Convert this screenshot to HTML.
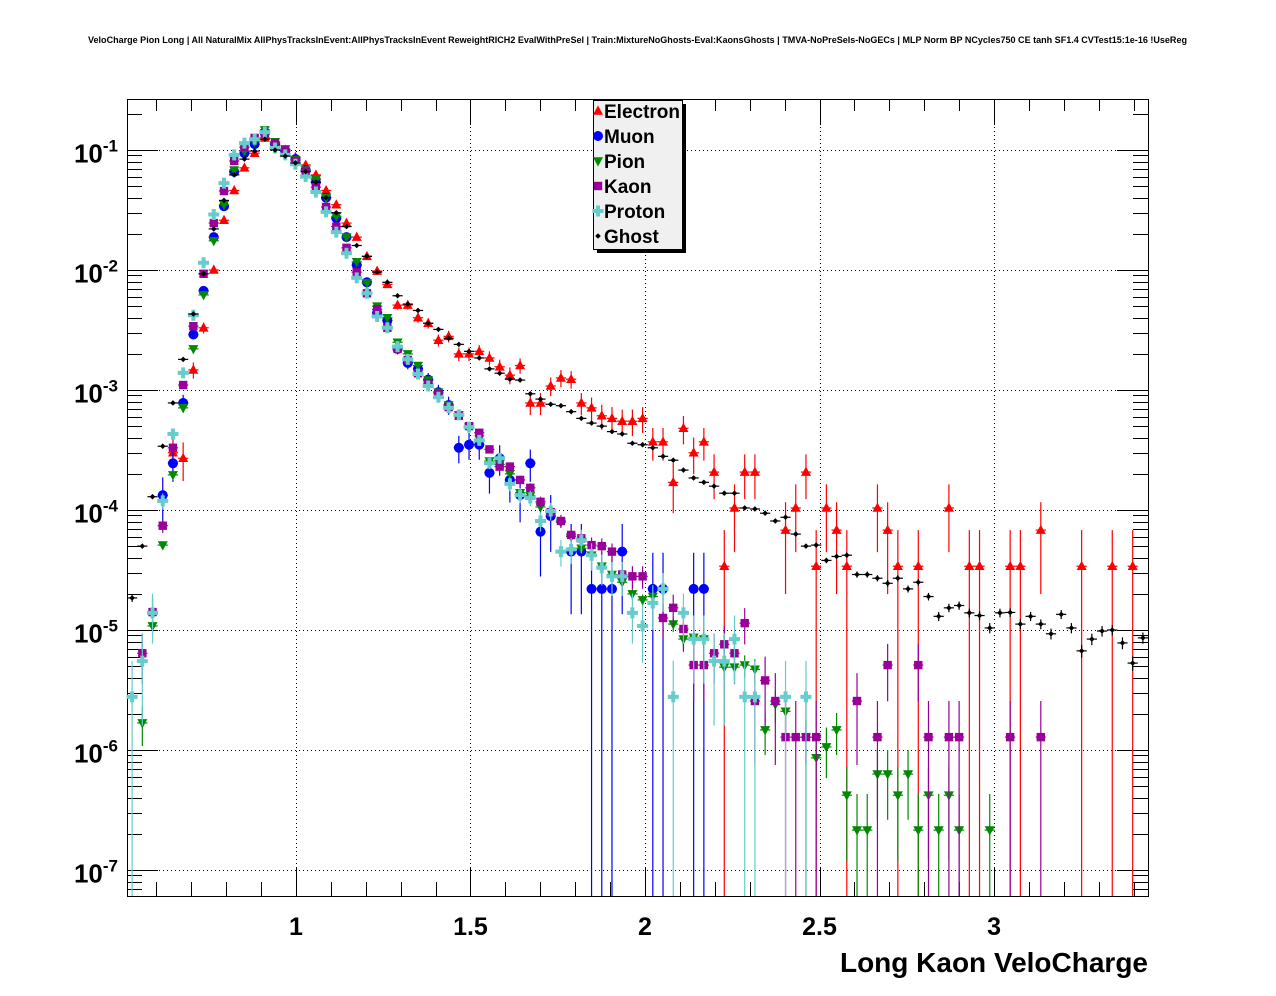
<!DOCTYPE html>
<html><head><meta charset="utf-8"><style>
html,body{margin:0;padding:0;background:#fff;}
svg{display:block;font-family:"Liberation Sans",Arial,sans-serif;}
</style></head><body>
<svg id="chart" width="1276" height="996" viewBox="0 0 1276 996" xmlns="http://www.w3.org/2000/svg">
<rect x="0" y="0" width="1276" height="996" fill="#fff"/>
<text x="88" y="43" font-size="9" font-weight="bold" textLength="1099" lengthAdjust="spacingAndGlyphs">VeloCharge Pion Long | All NaturalMix AllPhysTracksInEvent:AllPhysTracksInEvent ReweightRICH2 EvalWithPreSel | Train:MixtureNoGhosts-Eval:KaonsGhosts | TMVA-NoPreSels-NoGECs | MLP Norm BP NCycles750 CE tanh SF1.4 CVTest15:1e-16 !UseReg</text>
<rect x="127.5" y="99.5" width="1021" height="797" fill="#fff" stroke="#000" stroke-width="1"/>
<g id="grid"></g><g id="ticks"></g><g id="series"></g>
<text x="1148" y="972" text-anchor="end" font-size="28" font-weight="bold">Long Kaon VeloCharge</text>
<g id="legend">
<rect x="597" y="104" width="89" height="149" fill="#000"/>
<rect x="593.5" y="100.5" width="89" height="149" fill="#f0f0f0" stroke="#000"/>
</g>
</svg>
<script>
const nBins = 100;
const xMin = 0.516, xMax = 3.441;
const xTicks = [1, 1.5, 2, 2.5, 3];
const xTickLabels = ["1", "1.5", "2", "2.5", "3"];
const yDecades = [-1, -2, -3, -4, -5, -6, -7];
const yTickLabels = ["-1", "-2", "-3", "-4", "-5", "-6", "-7"];
const seriesNames = ["Electron", "Muon", "Pion", "Kaon", "Proton", "Ghost"];
const N = null;
const electron = [N,N,N,N,3.0e-4,2.7e-4,1.47e-3,3.3e-3,1.0e-2,2.6e-2,4.6e-2,7.1e-2,0.094,0.126,0.112,0.1,0.087,0.075,0.062,0.046,0.035,0.0246,0.0188,0.013,0.0098,7.6e-3,5.1e-3,5.1e-3,4.0e-3,3.6e-3,2.6e-3,2.8e-3,2.0e-3,2.0e-3,2.1e-3,1.85e-3,1.56e-3,1.33e-3,1.6e-3,7.8e-4,7.8e-4,1.08e-3,1.26e-3,1.23e-3,7.8e-4,7.1e-4,6.1e-4,5.8e-4,5.5e-4,5.5e-4,5.8e-4,3.7e-4,3.7e-4,1.7e-4,4.8e-4,3.0e-4,3.7e-4,2.07e-4,3.4e-5,1.04e-4,2.07e-4,2.07e-4,N,N,6.8e-5,1.04e-4,2.07e-4,3.4e-5,1.04e-4,6.8e-5,3.4e-5,N,N,1.04e-4,6.8e-5,3.4e-5,N,3.4e-5,N,N,1.04e-4,N,3.4e-5,3.4e-5,N,N,3.4e-5,3.4e-5,N,6.8e-5,N,N,N,3.4e-5,N,N,3.4e-5,N,3.4e-5,N];
const muon = [N,N,N,1.33e-4,2.45e-4,7.8e-4,2.9e-3,6.7e-3,0.0188,0.034,0.066,0.094,0.112,0.138,0.112,0.098,0.084,0.068,0.054,0.04,0.027,0.0188,0.011,7.9e-3,4.4e-3,3.8e-3,2.2e-3,1.68e-3,1.5e-3,1.22e-3,9.6e-4,7.5e-4,3.3e-4,3.5e-4,3.5e-4,2.04e-4,2.7e-4,1.78e-4,1.33e-4,2.45e-4,6.6e-5,8.9e-5,N,4.5e-5,4.5e-5,2.2e-5,2.2e-5,2.2e-5,4.5e-5,N,N,2.2e-5,2.2e-5,N,N,2.2e-5,2.2e-5,N,N,N,N,N,N,N,N,N,N,N,N,N,N,N,N,N,N,N,N,N,N,N,N,N,N,N,N,N,N,N,N,N,N,N,N,N,N,N,N,N,N,N];
const pion = [N,1.68e-6,1.08e-5,5.1e-5,1.96e-4,7.1e-4,2.2e-3,6.2e-3,0.0175,0.035,0.068,0.098,0.117,0.147,0.117,0.102,0.083,0.068,0.057,0.04,0.028,0.0188,0.0117,7.8e-3,5.0e-3,4.0e-3,2.5e-3,2.0e-3,1.6e-3,1.21e-3,9.6e-4,7.5e-4,6.2e-4,4.9e-4,3.9e-4,2.56e-4,2.4e-4,2.0e-4,1.39e-4,1.31e-4,1.06e-4,9.4e-5,7.9e-5,6.0e-5,4.8e-5,4.2e-5,3.4e-5,2.9e-5,2.5e-5,2.0e-5,1.78e-5,1.9e-5,N,1.12e-5,8.4e-6,8.7e-6,8.4e-6,N,4.9e-6,4.9e-6,5.1e-6,4.7e-6,1.47e-6,2.4e-6,2.1e-6,N,1.28e-6,8.6e-7,1.06e-6,1.47e-6,4.2e-7,2.15e-7,2.15e-7,6.3e-7,6.3e-7,4.2e-7,6.3e-7,2.15e-7,4.2e-7,2.15e-7,4.2e-7,2.15e-7,N,N,2.15e-7,N,N,N,N,N,N,N,N,N,N,N,N,N,N,N];
const kaon = [N,6.4e-6,1.41e-5,7.4e-5,3.3e-4,1.1e-3,3.4e-3,9.3e-3,0.0246,0.0455,0.081,0.106,0.126,0.138,0.114,0.1,0.081,0.066,0.049,0.0335,0.023,0.0153,9.6e-3,6.4e-3,4.7e-3,3.3e-3,2.2e-3,1.78e-3,1.38e-3,1.14e-3,9.3e-4,7.2e-4,6.1e-4,5.0e-4,4.4e-4,3.2e-4,2.3e-4,2.3e-4,1.78e-4,1.53e-4,1.17e-4,9.6e-5,8.1e-5,6.2e-5,5.8e-5,5.1e-5,5.0e-5,4.5e-5,2.9e-5,2.8e-5,2.8e-5,N,1.26e-5,1.53e-5,1.02e-5,5.1e-6,5.1e-6,6.4e-6,7.6e-6,6.4e-6,1.14e-5,2.56e-6,3.8e-6,2.56e-6,1.28e-6,1.28e-6,1.28e-6,1.28e-6,N,N,N,2.56e-6,N,1.28e-6,5.1e-6,N,N,5.1e-6,1.28e-6,N,1.28e-6,1.28e-6,N,N,N,N,1.28e-6,N,N,1.28e-6,N,N,N,N,N,N,N,N,N,N];
const proton = [2.77e-6,5.5e-6,1.39e-5,1.19e-4,4.3e-4,1.39e-3,4.2e-3,0.0115,0.029,0.053,0.091,0.114,0.123,0.141,0.104,0.091,0.076,0.06,0.0447,0.0305,0.0207,0.0138,8.6e-3,6.4e-3,4.1e-3,3.3e-3,2.3e-3,1.8e-3,1.36e-3,1.08e-3,8.7e-4,7.1e-4,6.2e-4,4.9e-4,3.8e-4,2.45e-4,2.7e-4,1.65e-4,1.33e-4,1.26e-4,8.1e-5,9.8e-5,4.5e-5,4.7e-5,5.6e-5,4.2e-5,3.3e-5,2.8e-5,2.8e-5,1.39e-5,1.08e-5,1.68e-5,2.2e-5,2.77e-6,1.39e-5,8.4e-6,8.4e-6,5.5e-6,5.5e-6,8.4e-6,2.77e-6,2.77e-6,N,N,2.77e-6,N,2.77e-6,N,N,N,N,N,N,N,N,N,N,N,N,N,N,N,N,N,N,N,N,N,N,N,N,N,N,N,N,N,N,N,N,N];
const ghost = [1.85e-5,5.0e-5,1.29e-4,3.4e-4,7.8e-4,1.8e-3,4.3e-3,9.3e-3,2.2e-2,3.8e-2,6.2e-2,8.4e-2,0.098,0.123,0.1,0.089,0.078,0.066,0.054,0.04,0.03,0.023,0.016,0.013,0.0096,7.9e-3,6.1e-3,5.2e-3,4.6e-3,3.6e-3,3.2e-3,2.7e-3,2.4e-3,2.1e-3,1.85e-3,1.5e-3,1.38e-3,1.23e-3,1.21e-3,9.3e-4,8.4e-4,7.6e-4,7.4e-4,6.6e-4,5.8e-4,5.3e-4,5.0e-4,4.5e-4,4.3e-4,3.6e-4,3.5e-4,3.3e-4,2.8e-4,2.6e-4,2.15e-4,1.85e-4,1.7e-4,1.58e-4,1.38e-4,1.38e-4,1.04e-4,1.02e-4,9.4e-5,8.1e-5,8.7e-5,6.3e-5,5.0e-5,5.1e-5,3.8e-5,4.1e-5,4.2e-5,2.9e-5,2.9e-5,2.7e-5,2.45e-5,2.7e-5,2.2e-5,2.5e-5,1.9e-5,1.3e-5,1.53e-5,1.6e-5,1.39e-5,1.32e-5,1.04e-5,1.39e-5,1.4e-5,1.12e-5,1.3e-5,1.12e-5,9.3e-6,1.35e-5,1.04e-5,6.7e-6,8.4e-6,9.8e-6,1.0e-5,7.8e-6,5.3e-6,8.6e-6];
const unitWeights = [3.4e-5, 2.2e-5, 2.15e-7, 1.28e-6, 2.77e-6, 1.0e-7];

const PX0 = 127, PX1 = 1148, PY0 = 99, PY1 = 896;
const yTopLog = -0.575, yBotLog = -7.2167;
const NS = "http://www.w3.org/2000/svg";
function xPix(v){ return PX0 + (v - xMin) / (xMax - xMin) * (PX1 - PX0); }
function yPixLog(l){ return PY0 + (yTopLog - l) / (yTopLog - yBotLog) * (PY1 - PY0); }
function yPix(v){ return yPixLog(Math.log10(v)); }
function binCenter(i){ return xMin + (i + 0.5) * (xMax - xMin) / nBins; }
function mk(tag, attrs, parent){
  const e = document.createElementNS(NS, tag);
  for (const k in attrs) e.setAttribute(k, attrs[k]);
  parent.appendChild(e); return e;
}
const grid = document.getElementById('grid');
const ticks = document.getElementById('ticks');
const svg = document.getElementById('chart');

xTicks.forEach((t, k) => {
  const x = Math.round(xPix(t)) + 0.5;
  const gl = mk('line', {x1:x, y1:PY0, x2:x, y2:PY1, stroke:'#000', 'stroke-width':1, 'stroke-dasharray':'1,3'}, grid);
  
  
  const lab = mk('text', {x:xPix(t), y:935, 'text-anchor':'middle', 'font-size':25, 'font-weight':'bold'}, svg);
  lab.textContent = xTickLabels[k];
  
  
});
for (let m = 6; m <= 34; m++){
  const v = m / 10;
  if (v < xMin || v > xMax) continue;
  const x = Math.round(xPix(v)) + 0.5;
  const major = (m % 5 === 0);
  const L = major ? 28 : 14;
  mk('line', {x1:x, y1:PY1, x2:x, y2:PY1 - L, stroke:'#000'}, ticks);
  mk('line', {x1:x, y1:PY0, x2:x, y2:PY0 + (major ? 26 : 12), stroke:'#000'}, ticks);
}
yDecades.forEach((d, k) => {
  const y = Math.round(yPixLog(d)) + 0.5;
  const gl = mk('line', {x1:PX0, y1:y, x2:PX1, y2:y, stroke:'#000', 'stroke-width':1, 'stroke-dasharray':'1,3'}, grid);
  
  
  const lab = mk('text', {x:118, y:y + 12, 'text-anchor':'end', 'font-size':26, 'font-weight':'bold'}, svg);
  
  
  lab.appendChild(document.createTextNode('10'));
  const sup = mk('tspan', {dy:-11, 'font-size':17}, lab);
  sup.textContent = yTickLabels[k];
});
for (let d = 0; d >= -8; d--){
  for (let m = 1; m <= 9; m++){
    const l = d + Math.log10(m);
    if (l > yTopLog || l < yBotLog) continue;
    const y = Math.round(yPixLog(l)) + 0.5;
    const L = (m === 1) ? 31 : 15;
    mk('line', {x1:PX0, y1:y, x2:PX0 + L, y2:y, stroke:'#000'}, ticks);
    mk('line', {x1:PX1, y1:y, x2:PX1 - L, y2:y, stroke:'#000'}, ticks);
  }
}

const colors = ['#ff0000', '#0000ff', '#008a00', '#990099', '#66cccc', '#000000'];
const allSeries = [electron, muon, pion, kaon, proton, ghost];
function drawMarker(g, s, x, y, c){
  if (s === 0) return mk('polygon', {points:`${x},${y-5.5} ${x-5},${y+3.8} ${x+5},${y+3.8}`, fill:c}, g);
  if (s === 1) return mk('circle', {cx:x, cy:y, r:5, fill:c}, g);
  if (s === 2) return mk('polygon', {points:`${x},${y+5.5} ${x-5},${y-3.8} ${x+5},${y-3.8}`, fill:c}, g);
  if (s === 3) return mk('rect', {x:x-4.2, y:y-4.2, width:8.4, height:8.4, fill:c}, g);
  if (s === 4) return mk('path', {d:`M${x-5.5},${y-2}h3.5v-3.5h4v3.5h3.5v4h-3.5v3.5h-4v-3.5h-3.5z`, fill:c}, g);
  return mk('path', {d:`M${x},${y-2.8}L${x+2.8},${y}L${x},${y+2.8}L${x-2.8},${y}z`, fill:c}, g);
}
const seriesG = document.getElementById('series');
allSeries.forEach((arr, s) => {
  const g = mk('g', {}, seriesG);
  
  
  const c = colors[s];
  const hw = (PX1 - PX0) / nBins / 2;
  arr.forEach((v, i) => {
    if (v === null || v === undefined || v <= 0) return;
    const x = xPix(binCenter(i));
    const y = yPix(v);
    const err = Math.sqrt(v * unitWeights[s]);
    const yHi = Math.max(PY0, yPix(v + err));
    const yLo = (v - err > 0) ? Math.min(PY1, yPix(v - err)) : PY1;
    mk('line', {x1:x, y1:yHi, x2:x, y2:yLo, stroke:c, 'stroke-width':1.2}, g);
    mk('line', {x1:x - hw, y1:y, x2:x + hw, y2:y, stroke:c, 'stroke-width':1.2}, g);
    const m = drawMarker(g, s, x, y, c);
    
    
  });
});

const legend = document.getElementById('legend');
seriesNames.forEach((nm, k) => {
  const yc = 111 + k * 25;
  const m = drawMarker(legend, k, 598, yc, colors[k]);
  
  
  const t = mk('text', {x:604, y:yc + 7, 'font-size':19, 'font-weight':'bold'}, legend);
  t.textContent = nm;
  
  
});
</script>
</body></html>
